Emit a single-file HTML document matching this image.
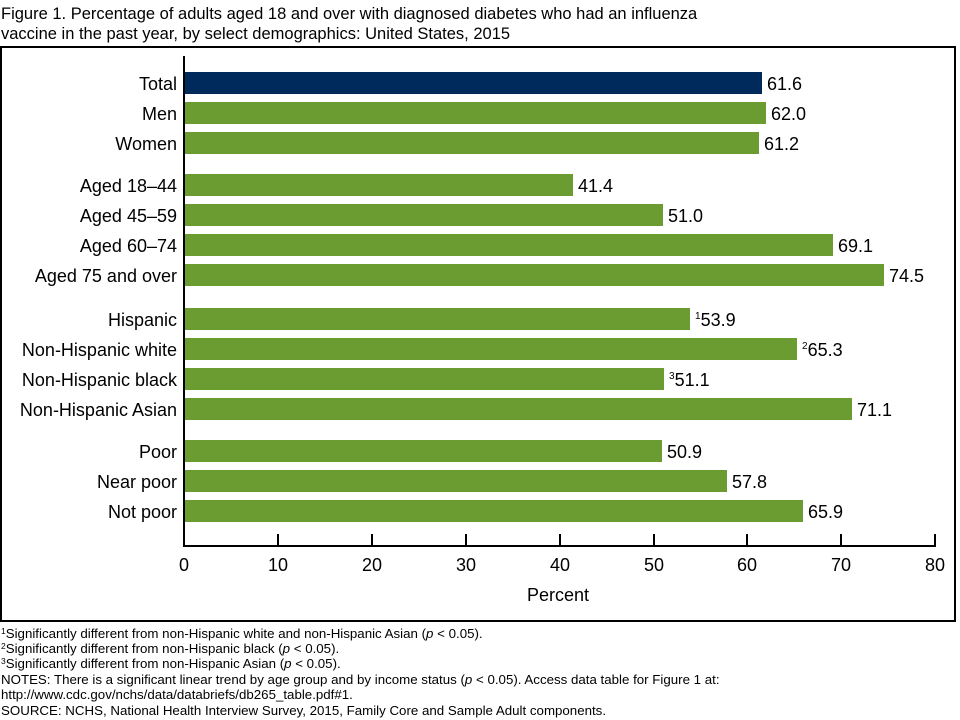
<!DOCTYPE html>
<html><head><meta charset="utf-8"><style>
body{margin:0;background:#fff;}
svg{display:block;font-family:"Liberation Sans",Arial,sans-serif;}
</style></head><body>
<svg width="960" height="720" xmlns="http://www.w3.org/2000/svg">
<text x="1" y="19" font-size="16.5">Figure 1. Percentage of adults aged 18 and over with diagnosed diabetes who had an influenza</text>
<text x="1" y="39" font-size="16.5">vaccine in the past year, by select demographics: United States, 2015</text>
<rect x="1" y="47" width="954" height="574" fill="none" stroke="#000" stroke-width="2"/>
<g font-size="18" fill="#000">
<rect x="184" y="72" width="578" height="22" fill="#002a5c"/>
<text x="177" y="90" text-anchor="end">Total</text><text x="767" y="90">61.6</text>
<g fill="#6a9c31">
<rect x="184" y="102" width="582" height="22"/>
<rect x="184" y="132" width="575" height="22"/>
<rect x="184" y="174" width="389" height="22"/>
<rect x="184" y="204" width="479" height="22"/>
<rect x="184" y="234" width="649" height="22"/>
<rect x="184" y="264" width="700" height="22"/>
<rect x="184" y="308" width="506" height="22"/>
<rect x="184" y="338" width="613" height="22"/>
<rect x="184" y="368" width="480" height="22"/>
<rect x="184" y="398" width="668" height="22"/>
<rect x="184" y="440" width="478" height="22"/>
<rect x="184" y="470" width="543" height="22"/>
<rect x="184" y="500" width="619" height="22"/>
</g>
<text x="177" y="120" text-anchor="end">Men</text><text x="771" y="120">62.0</text>
<text x="177" y="150" text-anchor="end">Women</text><text x="764" y="150">61.2</text>
<text x="177" y="192" text-anchor="end">Aged 18–44</text><text x="578" y="192">41.4</text>
<text x="177" y="222" text-anchor="end">Aged 45–59</text><text x="668" y="222">51.0</text>
<text x="177" y="252" text-anchor="end">Aged 60–74</text><text x="838" y="252">69.1</text>
<text x="177" y="282" text-anchor="end">Aged 75 and over</text><text x="889" y="282">74.5</text>
<text x="177" y="326" text-anchor="end">Hispanic</text><text x="695" y="326"><tspan font-size="10" dy="-7">1</tspan><tspan dy="7">53.9</tspan></text>
<text x="177" y="356" text-anchor="end">Non-Hispanic white</text><text x="802" y="356"><tspan font-size="10" dy="-7">2</tspan><tspan dy="7">65.3</tspan></text>
<text x="177" y="386" text-anchor="end">Non-Hispanic black</text><text x="669" y="386"><tspan font-size="10" dy="-7">3</tspan><tspan dy="7">51.1</tspan></text>
<text x="177" y="416" text-anchor="end">Non-Hispanic Asian</text><text x="857" y="416">71.1</text>
<text x="177" y="458" text-anchor="end">Poor</text><text x="667" y="458">50.9</text>
<text x="177" y="488" text-anchor="end">Near poor</text><text x="732" y="488">57.8</text>
<text x="177" y="518" text-anchor="end">Not poor</text><text x="808" y="518">65.9</text>
</g>
<g stroke="#000" stroke-width="2">
<line x1="184" y1="56" x2="184" y2="547"/>
<line x1="183" y1="546" x2="936" y2="546"/>
<line x1="278" y1="534" x2="278" y2="546"/><line x1="372" y1="534" x2="372" y2="546"/>
<line x1="466" y1="534" x2="466" y2="546"/><line x1="560" y1="534" x2="560" y2="546"/>
<line x1="654" y1="534" x2="654" y2="546"/><line x1="747" y1="534" x2="747" y2="546"/>
<line x1="841" y1="534" x2="841" y2="546"/><line x1="935" y1="534" x2="935" y2="546"/>
</g>
<g font-size="18" text-anchor="middle">
<text x="184" y="571">0</text><text x="278" y="571">10</text><text x="372" y="571">20</text><text x="466" y="571">30</text><text x="560" y="571">40</text><text x="654" y="571">50</text><text x="747" y="571">60</text><text x="841" y="571">70</text><text x="935" y="571">80</text>
<text x="558" y="601">Percent</text>
</g>
<g font-size="13.3">
<text x="1" y="638"><tspan font-size="8.5" dy="-4">1</tspan><tspan dy="4">Significantly different from non-Hispanic white and non-Hispanic Asian (</tspan><tspan font-style="italic">p</tspan> &lt; 0.05).</text>
<text x="1" y="653"><tspan font-size="8.5" dy="-4">2</tspan><tspan dy="4">Significantly different from non-Hispanic black (</tspan><tspan font-style="italic">p</tspan> &lt; 0.05).</text>
<text x="1" y="668"><tspan font-size="8.5" dy="-4">3</tspan><tspan dy="4">Significantly different from non-Hispanic Asian (</tspan><tspan font-style="italic">p</tspan> &lt; 0.05).</text>
<text x="1" y="684">NOTES: There is a significant linear trend by age group and by income status (<tspan font-style="italic">p</tspan> &lt; 0.05). Access data table for Figure 1 at:</text>
<text x="1" y="699">http://www.cdc.gov/nchs/data/databriefs/db265_table.pdf#1.</text>
<text x="1" y="715">SOURCE: NCHS, National Health Interview Survey, 2015, Family Core and Sample Adult components.</text>
</g>
</svg>
</body></html>
